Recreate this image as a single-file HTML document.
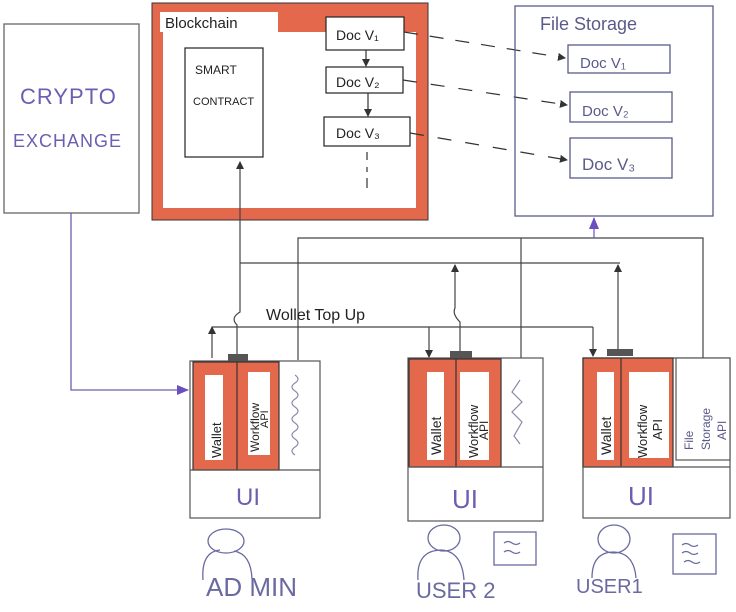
<!DOCTYPE html>
<html><head><meta charset="utf-8"><style>
html,body{margin:0;padding:0;background:#fff;}
svg{display:block;}
text{font-family:"Liberation Sans",sans-serif;}
</style></head><body>
<svg width="736" height="612" viewBox="0 0 736 612" xmlns="http://www.w3.org/2000/svg">
<defs>
<marker id="ah" markerWidth="8" markerHeight="8" refX="7" refY="4" orient="auto" markerUnits="userSpaceOnUse"><path d="M0,0 L8,4 L0,8 z" fill="#333"/></marker>
<marker id="ap" markerWidth="12" markerHeight="10" refX="11" refY="5" orient="auto" markerUnits="userSpaceOnUse"><path d="M0,0 L12,5 L0,10 z" fill="#6a4fc0"/></marker>
</defs>
<g fill="none" stroke="#555" stroke-width="1.3">
<!-- crypto exchange -->
<rect x="4" y="24" width="135" height="189" stroke="#666"/>
</g>
<text x="20" y="104" font-size="22" fill="#6a5fb0" letter-spacing="1">CRYPTO</text>
<text x="13" y="147" font-size="18" fill="#6a5fb0" letter-spacing="1">EXCHANGE</text>
<polyline points="71,213 71,390 188,390" fill="none" stroke="#6a5fb0" stroke-width="1.3" marker-end="url(#ap)"/>

<!-- blockchain -->
<rect x="152" y="3" width="276" height="217" fill="#e4694c" stroke="#333" stroke-width="1"/>
<rect x="163" y="32" width="253" height="176" fill="#fff"/>
<rect x="160" y="12" width="118" height="20" fill="#fff"/>
<text x="165" y="28" font-size="15" fill="#222">Blockchain</text>
<rect x="185" y="48" width="78" height="109" fill="#fff" stroke="#222" stroke-width="1.2"/>
<text x="195" y="74" font-size="12" fill="#222">SMART</text>
<text x="193" y="105" font-size="11" fill="#222">CONTRACT</text>
<rect x="326" y="17" width="78" height="33" fill="#fff" stroke="#222" stroke-width="1.2"/>
<text x="336" y="40" font-size="14" fill="#222">Doc V₁</text>
<rect x="326" y="67" width="77" height="26" fill="#fff" stroke="#222" stroke-width="1.2"/>
<text x="336" y="87" font-size="14" fill="#222">Doc V₂</text>
<rect x="324" y="117" width="86" height="29" fill="#fff" stroke="#222" stroke-width="1.2"/>
<text x="336" y="138" font-size="14" fill="#222">Doc V₃</text>
<g stroke="#333" stroke-width="1.2" fill="none">
<line x1="366" y1="50" x2="366" y2="66" marker-end="url(#ah)"/>
<line x1="368" y1="93" x2="368" y2="116" marker-end="url(#ah)"/>
<line x1="367" y1="152" x2="367" y2="160"/><line x1="367" y1="167" x2="367" y2="172"/><line x1="367" y1="178" x2="367" y2="188"/>
<line x1="404" y1="32" x2="565" y2="58" stroke-dasharray="14,12" marker-end="url(#ah)"/>
<line x1="403" y1="80" x2="567" y2="105" stroke-dasharray="14,14" marker-end="url(#ah)"/>
<line x1="410" y1="133" x2="567" y2="160" stroke-dasharray="14,14" marker-end="url(#ah)"/>
</g>

<!-- file storage -->
<g fill="none" stroke="#5a5a8a" stroke-width="1.3">
<rect x="515" y="6" width="198" height="210"/>
<rect x="568" y="45" width="102" height="28"/>
<rect x="570" y="92" width="102" height="30"/>
<rect x="570" y="138" width="102" height="40"/>
</g>
<text x="540" y="30" font-size="18" fill="#5a5a8a">File Storage</text>
<text x="580" y="68" font-size="15" fill="#5a5a8a">Doc V₁</text>
<text x="582" y="116" font-size="15" fill="#5a5a8a">Doc V₂</text>
<text x="582" y="170" font-size="17" fill="#5a5a8a">Doc V₃</text>

<!-- connectors -->
<g fill="none" stroke="#444" stroke-width="1.2">
<polyline points="298,360 298,238 703,238 703,358"/>
<line x1="521" y1="238" x2="521" y2="358"/>
<line x1="594" y1="238" x2="594" y2="218" stroke="#6a4fc0" marker-end="url(#ap)"/>
<line x1="240" y1="263" x2="620" y2="263"/>
<path d="M237,358 L237,325 Q230,318 240,312 L240,162" marker-end="url(#ah)"/>
<path d="M460,355 L460,322 Q452,314 455,308 L455,265" marker-end="url(#ah)"/>
<path d="M618,355 L618,265" marker-end="url(#ah)"/>
<line x1="212" y1="327" x2="593" y2="327"/>
<line x1="212" y1="358" x2="212" y2="327" marker-end="url(#ah)"/>
<line x1="429" y1="327" x2="429" y2="357" marker-end="url(#ah)"/>
<line x1="593" y1="327" x2="593" y2="356" marker-end="url(#ah)"/>
</g>
<text x="266" y="320" font-size="16" fill="#222">Wollet Top Up</text>

<!-- admin -->
<g stroke="#555" stroke-width="1.2">
<rect x="190" y="361" width="130" height="157" fill="#fff"/>
<rect x="193" y="362" width="86" height="108" fill="#e4694c" stroke="#333"/>
<line x1="237" y1="362" x2="237" y2="470" stroke="#333"/>
<line x1="190" y1="470" x2="320" y2="470"/>
</g>
<rect x="205" y="375" width="18" height="85" fill="#fff"/>
<rect x="248" y="372" width="22" height="83" fill="#fff"/>
<rect x="228" y="354" width="20" height="7" fill="#555"/>
<path d="M295,455 q-6,-4 0,-8 q6,-4 0,-8 q-6,-4 0,-8 q6,-4 0,-8 q-6,-4 0,-8 q6,-4 0,-8 q-6,-4 0,-8 q6,-4 0,-8 q-6,-4 0,-8 q6,-4 0,-8" fill="none" stroke="#8888aa" stroke-width="1.2"/>
<text transform="translate(221,458) rotate(-90)" font-size="13" fill="#222">Wallet</text>
<text transform="translate(259,452) rotate(-90)" font-size="12" fill="#222">Workflow</text>
<text transform="translate(268,428) rotate(-90)" font-size="11" fill="#222">API</text>
<text x="236" y="505" font-size="24" fill="#6a5fb0">UI</text>

<!-- user2 -->
<g stroke="#555" stroke-width="1.2">
<rect x="408" y="358" width="135" height="163" fill="#fff"/>
<rect x="409" y="359" width="92" height="108" fill="#e4694c" stroke="#333"/>
<line x1="456" y1="359" x2="456" y2="467" stroke="#333"/>
<line x1="408" y1="467" x2="543" y2="467"/>
</g>
<rect x="427" y="372" width="17" height="88" fill="#fff"/>
<rect x="460" y="372" width="29" height="88" fill="#fff"/>
<rect x="450" y="351" width="22" height="7" fill="#555"/>
<path d="M520,380 l-8,12 l10,10 l-10,10 l10,10 l-8,14 l6,8" fill="none" stroke="#8888aa" stroke-width="1.2"/>
<text transform="translate(441,455) rotate(-90)" font-size="14" fill="#222">Wallet</text>
<text transform="translate(478,458) rotate(-90)" font-size="13" fill="#222">Workflow</text>
<text transform="translate(488,440) rotate(-90)" font-size="12" fill="#222">API</text>
<text x="452" y="508" font-size="26" fill="#6a5fb0">UI</text>

<!-- user1 -->
<g stroke="#555" stroke-width="1.2">
<rect x="583" y="358" width="147" height="160" fill="#fff"/>
<rect x="583" y="358" width="90" height="109" fill="#e4694c" stroke="#333"/>
<line x1="621" y1="358" x2="621" y2="467" stroke="#333"/>
<line x1="583" y1="467" x2="730" y2="467"/>
<rect x="676" y="358" width="54" height="102" fill="#fff"/>
</g>
<rect x="597" y="372" width="17" height="88" fill="#fff"/>
<rect x="629" y="372" width="40" height="86" fill="#fff"/>
<rect x="607" y="349" width="26" height="7" fill="#555"/>
<text transform="translate(611,455) rotate(-90)" font-size="14" fill="#222">Wallet</text>
<text transform="translate(647,458) rotate(-90)" font-size="13" fill="#222">Workflow</text>
<text transform="translate(662,440) rotate(-90)" font-size="13" fill="#222">API</text>
<text transform="translate(693,450) rotate(-90)" font-size="12" fill="#5a5a8a">File</text>
<text transform="translate(710,450) rotate(-90)" font-size="12" fill="#5a5a8a">Storage</text>
<text transform="translate(726,440) rotate(-90)" font-size="12" fill="#5a5a8a">API</text>
<text x="628" y="505" font-size="26" fill="#6a5fb0">UI</text>

<!-- people -->
<g fill="none" stroke="#6a6aa0" stroke-width="1.3">
<ellipse cx="226" cy="541" rx="18" ry="12"/>
<path d="M203,580 q-2,-28 17,-30 M234,551 q17,3 18,28"/>
<ellipse cx="444" cy="538" rx="16" ry="13"/>
<path d="M418,580 q-2,-30 24,-30 q20,2 22,30"/>
<rect x="494" y="532" width="42" height="33"/>
<path d="M504,543 q4,-3 8,0 q4,3 8,0 M504,552 q4,-3 8,0 q4,3 8,0"/>
<ellipse cx="614" cy="539" rx="16" ry="14"/>
<path d="M592,578 q0,-26 22,-26 q20,1 22,26"/>
<rect x="673" y="534" width="43" height="40"/>
<path d="M682,545 q4,-3 8,0 q4,3 8,0 M682,553 q4,-3 8,0 q4,3 8,0 M684,562 q4,-3 8,0 q4,3 8,0"/>
</g>
<text x="206" y="596" font-size="26" fill="#6a6aa0">AD MIN</text>
<text x="416" y="598" font-size="22" fill="#6a6aa0">USER 2</text>
<text x="576" y="593" font-size="20" fill="#6a6aa0">USER1</text>
</svg>
</body></html>
